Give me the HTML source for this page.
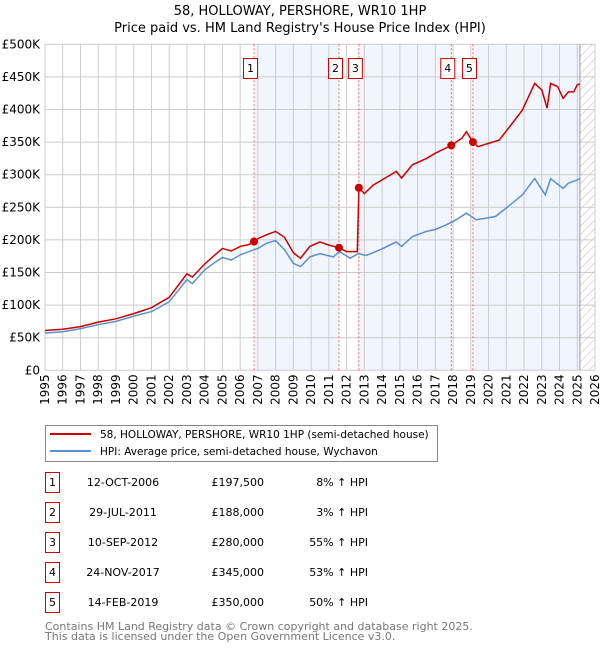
<!DOCTYPE html>
<html><head><meta charset="utf-8">
<style>
body{margin:0;background:#fff;font-family:"DejaVu Sans","Liberation Sans",sans-serif;}
svg text{font-family:"DejaVu Sans","Liberation Sans",sans-serif;}
</style></head>
<body>
<svg id="c" width="600" height="650" xmlns="http://www.w3.org/2000/svg">
<defs><pattern id="hatch" width="6" height="6" patternUnits="userSpaceOnUse" patternTransform="rotate(45)"><line x1="0" y1="0" x2="0" y2="6" stroke="#bbb" stroke-width="1"/></pattern></defs>
<text x="300" y="15" text-anchor="middle" font-size="13">58, HOLLOWAY, PERSHORE, WR10 1HP</text>
<text x="300" y="32" text-anchor="middle" font-size="13">Price paid vs. HM Land Registry's House Price Index (HPI)</text>
<g id="plot"></g>
<g>
<rect x="45.5" y="425.5" width="392" height="36" fill="#fff" stroke="#888"/>
<line x1="50" y1="434" x2="91" y2="434" stroke="#cc0000" stroke-width="2"/>
<text x="100" y="438" font-size="10.5">58, HOLLOWAY, PERSHORE, WR10 1HP (semi-detached house)</text>
<line x1="50" y1="451" x2="91" y2="451" stroke="#5b8fd0" stroke-width="2"/>
<text x="100" y="455" font-size="10.5">HPI: Average price, semi-detached house, Wychavon</text>
</g>
<g id="table"></g>
<text x="45" y="630" font-size="11" fill="#777">Contains HM Land Registry data © Crown copyright and database right 2025.</text>
<text x="45" y="640" font-size="11" fill="#777">This data is licensed under the Open Government Licence v3.0.</text>
</svg>
<script>
const hpiYears=[1995,1996,1997,1998,1999,2000,2001,2002,2003,2003.3,2004,2004.5,2005,2005.5,2006,2006.5,2007,2007.5,2008,2008.5,2009,2009.4,2009.93,2010.5,2011.25,2011.6,2012.2,2012.65,2013.1,2013.9,2014.8,2015.1,2015.7,2016.5,2017,2017.6,2018,2018.75,2019.3,2019.8,2020.4,2021.1,2021.9,2022.6,2023.2,2023.5,2024.2,2024.5,2025.0,2025.15];
const hpiValues=[57,59,64,70,75,83,90,105,139,133,154,164,173,169,177,182,187,195,199,185,164,159,174,179,174,182,172,179,176,185,197,190,205,213,216,223,228,241,231,233,236,251,269,294,269,294,279,287,292,294];
const priceYears=[1995,1996,1997,1998,1999,2000,2001,2002,2003,2003.3,2004,2004.5,2005,2005.5,2006,2006.5,2006.78,2007,2007.5,2008,2008.5,2009,2009.4,2009.93,2010.5,2011.0,2011.57,2012.0,2012.6,2012.69,2013.0,2013.5,2014.0,2014.8,2015.1,2015.7,2016.5,2017.0,2017.6,2017.9,2018.5,2018.75,2019.12,2019.4,2020.0,2020.6,2021.2,2021.9,2022.6,2023.0,2023.3,2023.5,2023.9,2024.2,2024.5,2024.8,2025.0,2025.15];
const priceValues=[61,63,67,74,79,87,96,112,148,143,163,175,187,183,190,193,197.5,202,208,213,204,180,172,190,197,192,188,182,182,280,271,284,292,305,295,315,325,333,341,345,356,366,350,343,348,353,374,399,440,430,402,440,435,417,427,427,438,439];
const saleYears=[2006.78,2011.57,2012.69,2017.9,2019.12];
const salePrices=[197.5,188,280,345,350];
const saleDates=["12-OCT-2006","29-JUL-2011","10-SEP-2012","24-NOV-2017","14-FEB-2019"];
const salePriceLabels=["£197,500","£188,000","£280,000","£345,000","£350,000"];
const saleHpiLabels=["8% ↑ HPI","3% ↑ HPI","55% ↑ HPI","53% ↑ HPI","50% ↑ HPI"];
const yTicks=[0,50,100,150,200,250,300,350,400,450,500];
const yTickLabels=["£0","£50K","£100K","£150K","£200K","£250K","£300K","£350K","£400K","£450K","£500K"];
const xTicks=[1995,1996,1997,1998,1999,2000,2001,2002,2003,2004,2005,2006,2007,2008,2009,2010,2011,2012,2013,2014,2015,2016,2017,2018,2019,2020,2021,2022,2023,2024,2025,2026];
const dataEnd=2025.15;

const L=45,R=595,T=44.3,B=370.3;
const X=y=>L+(y-1995)/(2026-1995)*(R-L);
const Y=v=>B-v/500*(B-T);
const NS="http://www.w3.org/2000/svg";
const plot=document.getElementById('plot');
function mk(tag,attrs,parent){const e=document.createElementNS(NS,tag);for(const k in attrs)e.setAttribute(k,attrs[k]);(parent||plot).appendChild(e);return e;}

[[0,1],[2,3],[4,null]].forEach(p=>{
  const x1=X(saleYears[p[0]]),x2=p[1]===null?X(dataEnd):X(saleYears[p[1]]);
  const r=mk('rect',{x:x1,y:T,width:x2-x1,height:B-T,fill:'#eef3fd',opacity:0.8});
  
  
});
const h=mk('rect',{x:X(dataEnd),y:T,width:R-X(dataEnd),height:B-T,fill:'url(#hatch)'});



yTicks.forEach((v,i)=>{
  const g=mk('line',{x1:L,x2:R,y1:Y(v),y2:Y(v),stroke:'#ccc','stroke-width':1});
  
  
  const t=mk('text',{x:40,y:Y(v)+4,'text-anchor':'end','font-size':12});
  t.textContent=yTickLabels[i];
  
  
});
xTicks.forEach(yr=>{
  const g=mk('line',{x1:X(yr),x2:X(yr),y1:T,y2:B,stroke:'#ccc','stroke-width':1});
  
  
  const t=mk('text',{x:0,y:0,'text-anchor':'end','font-size':12,transform:`translate(${X(yr)+4},${B+4}) rotate(-90)`});
  t.textContent=yr;
  
  
});
const ax=mk('line',{x1:X(dataEnd),x2:X(dataEnd),y1:T,y2:B,stroke:'#999','stroke-width':1});



saleYears.forEach((yr,i)=>{
  const l=mk('line',{x1:X(yr),x2:X(yr),y1:T,y2:B,stroke:'#e66','stroke-width':1,'stroke-dasharray':'2,2'});
  
  
  const b=mk('rect',{x:X(yr)-10.5,y:58.5,width:14,height:20,fill:'#fff',stroke:'#cc0000'});
  
  
  const t=mk('text',{x:X(yr)-3.5,y:72,'text-anchor':'middle','font-size':11});
  t.textContent=String(i+1);
  
  
});

const hp=mk('path',{d:hpiYears.map((y,i)=>(i?'L':'M')+X(y).toFixed(1)+','+Y(hpiValues[i]).toFixed(1)).join(''),fill:'none',stroke:'#5b8fd0','stroke-width':1.5});


const pp=mk('path',{d:priceYears.map((y,i)=>(i?'L':'M')+X(y).toFixed(1)+','+Y(priceValues[i]).toFixed(1)).join(''),fill:'none',stroke:'#cc0000','stroke-width':1.5});


saleYears.forEach((yr,i)=>{
  const c=mk('circle',{cx:X(yr),cy:Y(salePrices[i]),r:4,fill:'#cc0000'});
  
  
});

const tb=document.getElementById('table');
saleDates.forEach((d,i)=>{
  const cy=483+i*30;
  const b=mk('rect',{x:45.5,y:cy-10.5,width:14,height:20,fill:'#fff',stroke:'#cc0000'},tb);
  
  
  const n=mk('text',{x:52.5,y:cy+3,'text-anchor':'middle','font-size':11},tb);
  n.textContent=String(i+1);
  
  
  const t1=mk('text',{x:123,y:cy+3,'text-anchor':'middle','font-size':11},tb);
  t1.textContent=d;
  
  
  const t2=mk('text',{x:264,y:cy+3,'text-anchor':'end','font-size':11},tb);
  t2.textContent=salePriceLabels[i];
  
  
  const t3=mk('text',{x:368,y:cy+3,'text-anchor':'end','font-size':11},tb);
  t3.textContent=saleHpiLabels[i];
  
  
});
</script>
</body></html>
